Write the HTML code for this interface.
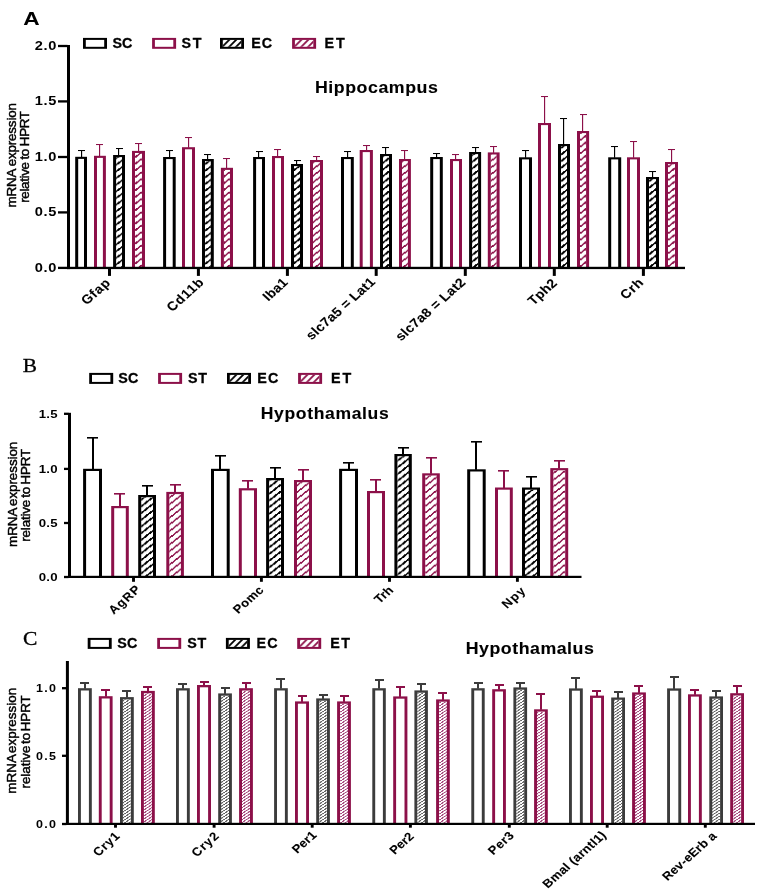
<!DOCTYPE html>
<html lang="en"><head><meta charset="utf-8"><title>mRNA expression relative to HPRT</title>
<style>html,body{margin:0;padding:0;background:#fff;}body{width:762px;height:896px;overflow:hidden;}svg{display:block;}text{white-space:pre;}</style>
</head><body>
<svg width="762" height="896" viewBox="0 0 762 896">
<rect width="762" height="896" fill="#fff"/>
<defs>
<pattern id="hA0" patternUnits="userSpaceOnUse" x="0" y="0" width="8.8" height="6.65"><path d="M-8.8,6.65 L8.8,-6.65 M-8.8,13.3 L17.6,-6.65 M0,13.3 L17.6,0" stroke="#000000" stroke-width="1.8" fill="none" shape-rendering="crispEdges"/></pattern>
<pattern id="hB0" patternUnits="userSpaceOnUse" x="0" y="0" width="8.6" height="6.7"><path d="M-8.6,6.7 L8.6,-6.7 M-8.6,13.4 L17.2,-6.7 M0,13.4 L17.2,0" stroke="#000000" stroke-width="1.7" fill="none" shape-rendering="crispEdges"/></pattern>
<pattern id="hB1" patternUnits="userSpaceOnUse" x="0" y="0" width="8.6" height="6.7"><path d="M-8.6,6.7 L8.6,-6.7 M-8.6,13.4 L17.2,-6.7 M0,13.4 L17.2,0" stroke="#8C1049" stroke-width="1.5" fill="none" shape-rendering="crispEdges"/></pattern>
<pattern id="hA1" patternUnits="userSpaceOnUse" x="0" y="0" width="8.8" height="6.65"><path d="M-8.8,6.65 L8.8,-6.65 M-8.8,13.3 L17.6,-6.65 M0,13.3 L17.6,0" stroke="#8C1049" stroke-width="1.6" fill="none" shape-rendering="crispEdges"/></pattern>
<pattern id="hC0" patternUnits="userSpaceOnUse" x="0" y="0" width="4.5" height="3"><path d="M-4.5,3 L4.5,-3 M-4.5,6 L9,-3 M0,6 L9,0" stroke="#606060" stroke-width="1" fill="none" shape-rendering="crispEdges"/></pattern>
<pattern id="hC1" patternUnits="userSpaceOnUse" x="0" y="0" width="4.5" height="3"><path d="M-4.5,3 L4.5,-3 M-4.5,6 L9,-3 M0,6 L9,0" stroke="#A4457A" stroke-width="1" fill="none" shape-rendering="crispEdges"/></pattern>
<pattern id="hL0" patternUnits="userSpaceOnUse" x="2.2" y="2.1" width="6.9" height="6.9"><path d="M-6.9,6.9 L6.9,-6.9 M-6.9,13.8 L13.8,-6.9 M0,13.8 L13.8,0" stroke="#000000" stroke-width="1.8" fill="none"/></pattern>
<pattern id="hL1" patternUnits="userSpaceOnUse" x="2.2" y="2.1" width="6.9" height="6.9"><path d="M-6.9,6.9 L6.9,-6.9 M-6.9,13.8 L13.8,-6.9 M0,13.8 L13.8,0" stroke="#8C1049" stroke-width="1.8" fill="none"/></pattern>
</defs>
<g id="panel-A">
<text transform="translate(23.23,24.9) scale(1.19,1)" text-anchor="start" fill="#000" style='font-family:"Liberation Sans", Arial, Helvetica, sans-serif;font-size:19.1px;font-weight:bold;'>A</text>
<g transform="translate(83,37.9)">
<rect x="0" y="0" width="24" height="10.9" fill="#000000"/>
<rect x="2.8" y="2" width="18.4" height="6.9" fill="#fff"/>
</g>
<text transform="translate(112.47,48) scale(1,1)" text-anchor="start" fill="#000" style='font-family:"Liberation Sans", Arial, Helvetica, sans-serif;font-size:14.3px;font-weight:bold;letter-spacing:-0.13px;stroke:#000;stroke-width:0.3px;'>SC</text>
<g transform="translate(152.1,37.9)">
<rect x="0" y="0" width="24" height="10.9" fill="#8C1049"/>
<rect x="2.8" y="2" width="18.4" height="6.9" fill="#fff"/>
</g>
<text transform="translate(181.47,48) scale(1,1)" text-anchor="start" fill="#000" style='font-family:"Liberation Sans", Arial, Helvetica, sans-serif;font-size:14.3px;font-weight:bold;letter-spacing:1.7px;stroke:#000;stroke-width:0.3px;'>ST</text>
<g transform="translate(220,37.9)">
<rect x="0" y="0" width="24" height="10.9" fill="#000000"/>
<rect x="2.8" y="2" width="18.4" height="6.9" fill="#fff"/>
<rect x="2.8" y="2" width="18.4" height="6.9" fill="url(#hL0)"/>
</g>
<text transform="translate(251.23,48) scale(1,1)" text-anchor="start" fill="#000" style='font-family:"Liberation Sans", Arial, Helvetica, sans-serif;font-size:14.3px;font-weight:bold;letter-spacing:1px;stroke:#000;stroke-width:0.3px;'>EC</text>
<g transform="translate(292.1,37.9)">
<rect x="0" y="0" width="24" height="10.9" fill="#8C1049"/>
<rect x="2.8" y="2" width="18.4" height="6.9" fill="#fff"/>
<rect x="2.8" y="2" width="18.4" height="6.9" fill="url(#hL1)"/>
</g>
<text transform="translate(324.53,48) scale(1,1)" text-anchor="start" fill="#000" style='font-family:"Liberation Sans", Arial, Helvetica, sans-serif;font-size:14.3px;font-weight:bold;letter-spacing:1.83px;stroke:#000;stroke-width:0.3px;'>ET</text>
<text transform="translate(314.9,93) scale(1.07,1)" text-anchor="start" fill="#000" style='font-family:"Liberation Sans", Arial, Helvetica, sans-serif;font-size:16.6px;font-weight:bold;letter-spacing:0.52px;stroke:#000;stroke-width:0.1px;'>Hippocampus</text>
<text transform="translate(16.3,207.47) scale(1,1) rotate(-90)" text-anchor="start" fill="#000" style='font-family:"Liberation Sans", Arial, Helvetica, sans-serif;font-size:13.4px;font-weight:normal;letter-spacing:-0.16px;word-spacing:-0.5px;stroke:#000;stroke-width:0.45px;'>mRNA expression</text>
<text transform="translate(29.2,202.77) scale(1,1) rotate(-90)" text-anchor="start" fill="#000" style='font-family:"Liberation Sans", Arial, Helvetica, sans-serif;font-size:13.4px;font-weight:normal;letter-spacing:-0.35px;word-spacing:-0.5px;stroke:#000;stroke-width:0.45px;'>relative to HPRT</text>
<rect x="81" y="150" width="1.15" height="7.3" fill="#000000"/>
<rect x="78" y="150" width="7" height="1.05" fill="#000000"/>
<rect x="75.2" y="156.8" width="11.8" height="111.2" fill="#000000"/>
<rect x="78.2" y="158.9" width="5.8" height="109.1" fill="#fff"/>
<rect x="99" y="144" width="1.15" height="12.3" fill="#8C1049"/>
<rect x="96" y="144" width="7" height="1.05" fill="#8C1049"/>
<rect x="94" y="155.8" width="11.9" height="112.2" fill="#8C1049"/>
<rect x="97" y="157.9" width="5.9" height="110.1" fill="#fff"/>
<rect x="118" y="148" width="1.15" height="7.5" fill="#000000"/>
<rect x="116" y="148" width="7" height="1.05" fill="#000000"/>
<rect x="113.1" y="155" width="11.9" height="113" fill="#000000"/>
<rect x="116.1" y="157.1" width="5.9" height="110.9" fill="#fff"/>
<rect x="116.1" y="157.1" width="5.9" height="110.9" fill="url(#hA0)"/>
<rect x="138" y="143" width="1.15" height="8.4" fill="#8C1049"/>
<rect x="135" y="143" width="7" height="1.05" fill="#8C1049"/>
<rect x="132" y="150.9" width="13" height="117.1" fill="#8C1049"/>
<rect x="135" y="153" width="7" height="115" fill="#fff"/>
<rect x="135" y="153" width="7" height="115" fill="url(#hA1)"/>
<rect x="169" y="150" width="1.15" height="7.5" fill="#000000"/>
<rect x="166" y="150" width="7" height="1.05" fill="#000000"/>
<rect x="163.1" y="157" width="12.6" height="111" fill="#000000"/>
<rect x="166.1" y="159.1" width="6.6" height="108.9" fill="#fff"/>
<rect x="188" y="137" width="1.15" height="10.7" fill="#8C1049"/>
<rect x="185" y="137" width="7" height="1.05" fill="#8C1049"/>
<rect x="182" y="147.2" width="13" height="120.8" fill="#8C1049"/>
<rect x="185" y="149.3" width="7" height="118.7" fill="#fff"/>
<rect x="207" y="154" width="1.15" height="5.5" fill="#000000"/>
<rect x="204" y="154" width="7" height="1.05" fill="#000000"/>
<rect x="202" y="159" width="11.8" height="109" fill="#000000"/>
<rect x="205" y="161.1" width="5.8" height="106.9" fill="#fff"/>
<rect x="205" y="161.1" width="5.8" height="106.9" fill="url(#hA0)"/>
<rect x="226" y="158" width="1.15" height="10.3" fill="#8C1049"/>
<rect x="223" y="158" width="7" height="1.05" fill="#8C1049"/>
<rect x="220.9" y="167.8" width="12.1" height="100.2" fill="#8C1049"/>
<rect x="223.9" y="169.9" width="6.1" height="98.1" fill="#fff"/>
<rect x="223.9" y="169.9" width="6.1" height="98.1" fill="url(#hA1)"/>
<rect x="258" y="151" width="1.15" height="6.5" fill="#000000"/>
<rect x="256" y="151" width="7" height="1.05" fill="#000000"/>
<rect x="253.1" y="157" width="11.9" height="111" fill="#000000"/>
<rect x="256.1" y="159.1" width="5.9" height="108.9" fill="#fff"/>
<rect x="277" y="149" width="1.15" height="7.5" fill="#8C1049"/>
<rect x="274" y="149" width="7" height="1.05" fill="#8C1049"/>
<rect x="272" y="156" width="12" height="112" fill="#8C1049"/>
<rect x="275" y="158.1" width="6" height="109.9" fill="#fff"/>
<rect x="296" y="160" width="1.15" height="4.5" fill="#000000"/>
<rect x="294" y="160" width="7" height="1.05" fill="#000000"/>
<rect x="291" y="164" width="12" height="104" fill="#000000"/>
<rect x="294" y="166.1" width="6" height="101.9" fill="#fff"/>
<rect x="294" y="166.1" width="6" height="101.9" fill="url(#hA0)"/>
<rect x="316" y="156" width="1.15" height="4.5" fill="#8C1049"/>
<rect x="313" y="156" width="7" height="1.05" fill="#8C1049"/>
<rect x="310" y="160" width="13" height="108" fill="#8C1049"/>
<rect x="313" y="162.1" width="7" height="105.9" fill="#fff"/>
<rect x="313" y="162.1" width="7" height="105.9" fill="url(#hA1)"/>
<rect x="347" y="151" width="1.15" height="6.5" fill="#000000"/>
<rect x="344" y="151" width="7" height="1.05" fill="#000000"/>
<rect x="341" y="157" width="12.8" height="111" fill="#000000"/>
<rect x="344" y="159.1" width="6.8" height="108.9" fill="#fff"/>
<rect x="366" y="145" width="1.15" height="5.5" fill="#8C1049"/>
<rect x="363" y="145" width="7" height="1.05" fill="#8C1049"/>
<rect x="359.7" y="150" width="13.2" height="118" fill="#8C1049"/>
<rect x="362.7" y="152.1" width="7.2" height="115.9" fill="#fff"/>
<rect x="385" y="147" width="1.15" height="7.5" fill="#000000"/>
<rect x="382" y="147" width="7" height="1.05" fill="#000000"/>
<rect x="380" y="154" width="12" height="114" fill="#000000"/>
<rect x="383" y="156.1" width="6" height="111.9" fill="#fff"/>
<rect x="383" y="156.1" width="6" height="111.9" fill="url(#hA0)"/>
<rect x="404" y="150" width="1.15" height="9.5" fill="#8C1049"/>
<rect x="401" y="150" width="7" height="1.05" fill="#8C1049"/>
<rect x="399" y="159" width="11.9" height="109" fill="#8C1049"/>
<rect x="402" y="161.1" width="5.9" height="106.9" fill="#fff"/>
<rect x="402" y="161.1" width="5.9" height="106.9" fill="url(#hA1)"/>
<rect x="436" y="153" width="1.15" height="4.5" fill="#000000"/>
<rect x="433" y="153" width="7" height="1.05" fill="#000000"/>
<rect x="430.2" y="157" width="12.6" height="111" fill="#000000"/>
<rect x="433.2" y="159.1" width="6.6" height="108.9" fill="#fff"/>
<rect x="455" y="154" width="1.15" height="5.5" fill="#8C1049"/>
<rect x="452" y="154" width="7" height="1.05" fill="#8C1049"/>
<rect x="450" y="159" width="12" height="109" fill="#8C1049"/>
<rect x="453" y="161.1" width="6" height="106.9" fill="#fff"/>
<rect x="475" y="147" width="1.15" height="5.5" fill="#000000"/>
<rect x="472" y="147" width="7" height="1.05" fill="#000000"/>
<rect x="469.1" y="152" width="12" height="116" fill="#000000"/>
<rect x="472.1" y="154.1" width="6" height="113.9" fill="#fff"/>
<rect x="472.1" y="154.1" width="6" height="113.9" fill="url(#hA0)"/>
<rect x="493" y="146" width="1.15" height="6.9" fill="#8C1049"/>
<rect x="490" y="146" width="7" height="1.05" fill="#8C1049"/>
<rect x="487.8" y="152.4" width="11.8" height="115.6" fill="#8C1049"/>
<rect x="490.8" y="154.5" width="5.8" height="113.5" fill="#fff"/>
<rect x="490.8" y="154.5" width="5.8" height="113.5" fill="url(#hA1)"/>
<rect x="525" y="150" width="1.15" height="7.8" fill="#000000"/>
<rect x="522" y="150" width="7" height="1.05" fill="#000000"/>
<rect x="519" y="157.3" width="13" height="110.7" fill="#000000"/>
<rect x="522" y="159.4" width="7" height="108.6" fill="#fff"/>
<rect x="544" y="96" width="1.15" height="27.5" fill="#8C1049"/>
<rect x="541" y="96" width="7" height="1.05" fill="#8C1049"/>
<rect x="538" y="123" width="13" height="145" fill="#8C1049"/>
<rect x="541" y="125.1" width="7" height="142.9" fill="#fff"/>
<rect x="563" y="118" width="1.15" height="26.5" fill="#000000"/>
<rect x="560" y="118" width="7" height="1.05" fill="#000000"/>
<rect x="558" y="144" width="12" height="124" fill="#000000"/>
<rect x="561" y="146.1" width="6" height="121.9" fill="#fff"/>
<rect x="561" y="146.1" width="6" height="121.9" fill="url(#hA0)"/>
<rect x="582" y="114" width="1.15" height="17.5" fill="#8C1049"/>
<rect x="580" y="114" width="7" height="1.05" fill="#8C1049"/>
<rect x="577" y="131" width="12.1" height="137" fill="#8C1049"/>
<rect x="580" y="133.1" width="6.1" height="134.9" fill="#fff"/>
<rect x="580" y="133.1" width="6.1" height="134.9" fill="url(#hA1)"/>
<rect x="614" y="146" width="1.15" height="11.8" fill="#000000"/>
<rect x="611" y="146" width="7" height="1.05" fill="#000000"/>
<rect x="608.2" y="157.3" width="13" height="110.7" fill="#000000"/>
<rect x="611.2" y="159.4" width="7" height="108.6" fill="#fff"/>
<rect x="633" y="141" width="1.15" height="16.8" fill="#8C1049"/>
<rect x="630" y="141" width="7" height="1.05" fill="#8C1049"/>
<rect x="627" y="157.3" width="13" height="110.7" fill="#8C1049"/>
<rect x="630" y="159.4" width="7" height="108.6" fill="#fff"/>
<rect x="652" y="171" width="1.15" height="6.5" fill="#000000"/>
<rect x="649" y="171" width="7" height="1.05" fill="#000000"/>
<rect x="646" y="177" width="13" height="91" fill="#000000"/>
<rect x="649" y="179.1" width="7" height="88.9" fill="#fff"/>
<rect x="649" y="179.1" width="7" height="88.9" fill="url(#hA0)"/>
<rect x="671" y="149" width="1.15" height="13.5" fill="#8C1049"/>
<rect x="668" y="149" width="7" height="1.05" fill="#8C1049"/>
<rect x="665" y="162" width="13" height="106" fill="#8C1049"/>
<rect x="668" y="164.1" width="7" height="103.9" fill="#fff"/>
<rect x="668" y="164.1" width="7" height="103.9" fill="url(#hA1)"/>
<rect x="67" y="45" width="3" height="224.1" fill="#000"/>
<rect x="67" y="266.8" width="618" height="2.3" fill="#000"/>
<rect x="58" y="44.85" width="9.5" height="2.3" fill="#000"/>
<text transform="translate(34.83,49.9) scale(1.17,1)" text-anchor="start" fill="#000" style='font-family:"Liberation Sans", Arial, Helvetica, sans-serif;font-size:12.5px;font-weight:bold;letter-spacing:0.51px;'>2.0</text>
<rect x="58" y="100.25" width="9.5" height="2.3" fill="#000"/>
<text transform="translate(34.83,105.3) scale(1.17,1)" text-anchor="start" fill="#000" style='font-family:"Liberation Sans", Arial, Helvetica, sans-serif;font-size:12.5px;font-weight:bold;letter-spacing:0.51px;'>1.5</text>
<rect x="58" y="155.85" width="9.5" height="2.3" fill="#000"/>
<text transform="translate(34.83,160.9) scale(1.17,1)" text-anchor="start" fill="#000" style='font-family:"Liberation Sans", Arial, Helvetica, sans-serif;font-size:12.5px;font-weight:bold;letter-spacing:0.51px;'>1.0</text>
<rect x="58" y="211.25" width="9.5" height="2.3" fill="#000"/>
<text transform="translate(34.83,216.3) scale(1.17,1)" text-anchor="start" fill="#000" style='font-family:"Liberation Sans", Arial, Helvetica, sans-serif;font-size:12.5px;font-weight:bold;letter-spacing:0.51px;'>0.5</text>
<rect x="58" y="266.75" width="9.5" height="2.3" fill="#000"/>
<text transform="translate(34.83,271.8) scale(1.17,1)" text-anchor="start" fill="#000" style='font-family:"Liberation Sans", Arial, Helvetica, sans-serif;font-size:12.5px;font-weight:bold;letter-spacing:0.51px;'>0.0</text>
<rect x="108" y="268.6" width="3" height="7.3" fill="#000"/>
<text transform="translate(111.63,283.38) scale(1.12,1) rotate(-45)" text-anchor="end" fill="#000" style='font-family:"Liberation Sans", Arial, Helvetica, sans-serif;font-size:12.6px;font-weight:bold;letter-spacing:0.69px;stroke:#000;stroke-width:0.1px;'>Gfap</text>
<rect x="196.9" y="268.6" width="3" height="7.3" fill="#000"/>
<text transform="translate(205.15,282.77) scale(1.12,1) rotate(-45)" text-anchor="end" fill="#000" style='font-family:"Liberation Sans", Arial, Helvetica, sans-serif;font-size:12.6px;font-weight:bold;letter-spacing:0.78px;stroke:#000;stroke-width:0.1px;'>Cd11b</text>
<rect x="285.9" y="268.6" width="3" height="7.3" fill="#000"/>
<text transform="translate(288.8,283.23) scale(1.12,1) rotate(-45)" text-anchor="end" fill="#000" style='font-family:"Liberation Sans", Arial, Helvetica, sans-serif;font-size:12.6px;font-weight:bold;letter-spacing:0.19px;stroke:#000;stroke-width:0.1px;'>Iba1</text>
<rect x="374.7" y="268.6" width="3" height="7.3" fill="#000"/>
<text transform="translate(376.35,282.63) scale(1.12,1) rotate(-45)" text-anchor="end" fill="#000" style='font-family:"Liberation Sans", Arial, Helvetica, sans-serif;font-size:12.6px;font-weight:bold;letter-spacing:0.24px;stroke:#000;stroke-width:0.1px;'>slc7a5 = Lat1</text>
<rect x="463.8" y="268.6" width="3" height="7.3" fill="#000"/>
<text transform="translate(466.52,282.97) scale(1.12,1) rotate(-45)" text-anchor="end" fill="#000" style='font-family:"Liberation Sans", Arial, Helvetica, sans-serif;font-size:12.6px;font-weight:bold;letter-spacing:0.32px;stroke:#000;stroke-width:0.1px;'>slc7a8 = Lat2</text>
<rect x="552.8" y="268.6" width="3" height="7.3" fill="#000"/>
<text transform="translate(558.12,283.73) scale(1.12,1) rotate(-45)" text-anchor="end" fill="#000" style='font-family:"Liberation Sans", Arial, Helvetica, sans-serif;font-size:12.6px;font-weight:bold;letter-spacing:0.29px;stroke:#000;stroke-width:0.1px;'>Tph2</text>
<rect x="641.9" y="268.6" width="3" height="7.3" fill="#000"/>
<text transform="translate(644.55,283.15) scale(1.12,1) rotate(-45)" text-anchor="end" fill="#000" style='font-family:"Liberation Sans", Arial, Helvetica, sans-serif;font-size:12.6px;font-weight:bold;letter-spacing:0.69px;stroke:#000;stroke-width:0.1px;'>Crh</text>
</g>
<g id="panel-B">
<text transform="translate(22.77,371.6) scale(1.13,1)" text-anchor="start" fill="#000" style='font-family:"Liberation Serif", "Times New Roman", serif;font-size:18.9px;font-weight:normal;stroke:#000;stroke-width:0.3px;'>B</text>
<g transform="translate(89.2,372.9)">
<rect x="0" y="0" width="24" height="11" fill="#000000"/>
<rect x="2.8" y="2" width="18.4" height="7" fill="#fff"/>
</g>
<text transform="translate(118.27,383.1) scale(1,1)" text-anchor="start" fill="#000" style='font-family:"Liberation Sans", Arial, Helvetica, sans-serif;font-size:14.3px;font-weight:bold;letter-spacing:0.27px;stroke:#000;stroke-width:0.3px;'>SC</text>
<g transform="translate(158.1,372.9)">
<rect x="0" y="0" width="24" height="11" fill="#8C1049"/>
<rect x="2.8" y="2" width="18.4" height="7" fill="#fff"/>
</g>
<text transform="translate(188.07,383.1) scale(1,1)" text-anchor="start" fill="#000" style='font-family:"Liberation Sans", Arial, Helvetica, sans-serif;font-size:14.3px;font-weight:bold;letter-spacing:0.7px;stroke:#000;stroke-width:0.3px;'>ST</text>
<g transform="translate(227,372.9)">
<rect x="0" y="0" width="24" height="11" fill="#000000"/>
<rect x="2.8" y="2" width="18.4" height="7" fill="#fff"/>
<rect x="2.8" y="2" width="18.4" height="7" fill="url(#hL0)"/>
</g>
<text transform="translate(257.33,383.1) scale(1,1)" text-anchor="start" fill="#000" style='font-family:"Liberation Sans", Arial, Helvetica, sans-serif;font-size:14.3px;font-weight:bold;letter-spacing:1.2px;stroke:#000;stroke-width:0.3px;'>EC</text>
<g transform="translate(298.1,372.9)">
<rect x="0" y="0" width="24" height="11" fill="#8C1049"/>
<rect x="2.8" y="2" width="18.4" height="7" fill="#fff"/>
<rect x="2.8" y="2" width="18.4" height="7" fill="url(#hL1)"/>
</g>
<text transform="translate(331.03,383.1) scale(1,1)" text-anchor="start" fill="#000" style='font-family:"Liberation Sans", Arial, Helvetica, sans-serif;font-size:14.3px;font-weight:bold;letter-spacing:2.03px;stroke:#000;stroke-width:0.3px;'>ET</text>
<text transform="translate(260.7,418.9) scale(1.07,1)" text-anchor="start" fill="#000" style='font-family:"Liberation Sans", Arial, Helvetica, sans-serif;font-size:16.4px;font-weight:bold;letter-spacing:0.61px;stroke:#000;stroke-width:0.1px;'>Hypothamalus</text>
<text transform="translate(16.5,546.97) scale(1,1) rotate(-90)" text-anchor="start" fill="#000" style='font-family:"Liberation Sans", Arial, Helvetica, sans-serif;font-size:13.4px;font-weight:normal;letter-spacing:-0.05px;word-spacing:-1.2px;stroke:#000;stroke-width:0.45px;'>mRNA expression</text>
<text transform="translate(29.5,541.67) scale(1,1) rotate(-90)" text-anchor="start" fill="#000" style='font-family:"Liberation Sans", Arial, Helvetica, sans-serif;font-size:13.4px;font-weight:normal;letter-spacing:-0.19px;word-spacing:-1.2px;stroke:#000;stroke-width:0.45px;'>relative to HPRT</text>
<rect x="92" y="437" width="2" height="32.3" fill="#000000"/>
<rect x="87" y="437" width="11" height="1.6" fill="#000000"/>
<rect x="83.1" y="468.8" width="18.9" height="108.2" fill="#000000"/>
<rect x="86.1" y="471" width="12.9" height="106" fill="#fff"/>
<rect x="119" y="493" width="2" height="13.5" fill="#8C1049"/>
<rect x="114" y="493" width="11" height="1.6" fill="#8C1049"/>
<rect x="111.2" y="506" width="17.6" height="71" fill="#8C1049"/>
<rect x="114.2" y="508.2" width="11.6" height="68.8" fill="#fff"/>
<rect x="146" y="485" width="2" height="10.5" fill="#000000"/>
<rect x="142" y="485" width="11" height="1.6" fill="#000000"/>
<rect x="138.2" y="495" width="17.8" height="82" fill="#000000"/>
<rect x="141.2" y="497.2" width="11.8" height="79.8" fill="#fff"/>
<rect x="141.2" y="497.2" width="11.8" height="79.8" fill="url(#hB0)"/>
<rect x="174" y="484" width="2" height="8.4" fill="#8C1049"/>
<rect x="170" y="484" width="11" height="1.6" fill="#8C1049"/>
<rect x="166.3" y="491.9" width="17.6" height="85.1" fill="#8C1049"/>
<rect x="169.3" y="494.1" width="11.6" height="82.9" fill="#fff"/>
<rect x="169.3" y="494.1" width="11.6" height="82.9" fill="url(#hB1)"/>
<rect x="219" y="455" width="2" height="14.3" fill="#000000"/>
<rect x="215" y="455" width="11" height="1.6" fill="#000000"/>
<rect x="211" y="468.8" width="18.7" height="108.2" fill="#000000"/>
<rect x="214" y="471" width="12.7" height="106" fill="#fff"/>
<rect x="247" y="480" width="2" height="8.7" fill="#8C1049"/>
<rect x="242" y="480" width="11" height="1.6" fill="#8C1049"/>
<rect x="238.8" y="488.2" width="18.2" height="88.8" fill="#8C1049"/>
<rect x="241.8" y="490.4" width="12.2" height="86.6" fill="#fff"/>
<rect x="274" y="467" width="2" height="11.5" fill="#000000"/>
<rect x="270" y="467" width="11" height="1.6" fill="#000000"/>
<rect x="266.1" y="478" width="17.9" height="99" fill="#000000"/>
<rect x="269.1" y="480.2" width="11.9" height="96.8" fill="#fff"/>
<rect x="269.1" y="480.2" width="11.9" height="96.8" fill="url(#hB0)"/>
<rect x="302" y="469" width="2" height="11.5" fill="#8C1049"/>
<rect x="298" y="469" width="11" height="1.6" fill="#8C1049"/>
<rect x="294" y="480" width="18" height="97" fill="#8C1049"/>
<rect x="297" y="482.2" width="12" height="94.8" fill="#fff"/>
<rect x="297" y="482.2" width="12" height="94.8" fill="url(#hB1)"/>
<rect x="348" y="462" width="2" height="7.3" fill="#000000"/>
<rect x="343" y="462" width="11" height="1.6" fill="#000000"/>
<rect x="339.1" y="468.8" width="18.9" height="108.2" fill="#000000"/>
<rect x="342.1" y="471" width="12.9" height="106" fill="#fff"/>
<rect x="375" y="479" width="2" height="12.5" fill="#8C1049"/>
<rect x="370" y="479" width="11" height="1.6" fill="#8C1049"/>
<rect x="367" y="491" width="18" height="86" fill="#8C1049"/>
<rect x="370" y="493.2" width="12" height="83.8" fill="#fff"/>
<rect x="402" y="447" width="2" height="7.5" fill="#000000"/>
<rect x="398" y="447" width="11" height="1.6" fill="#000000"/>
<rect x="394.4" y="454" width="17.4" height="123" fill="#000000"/>
<rect x="397.4" y="456.2" width="11.4" height="120.8" fill="#fff"/>
<rect x="397.4" y="456.2" width="11.4" height="120.8" fill="url(#hB0)"/>
<rect x="430" y="457" width="2" height="16.8" fill="#8C1049"/>
<rect x="426" y="457" width="11" height="1.6" fill="#8C1049"/>
<rect x="422.2" y="473.3" width="17.6" height="103.7" fill="#8C1049"/>
<rect x="425.2" y="475.5" width="11.6" height="101.5" fill="#fff"/>
<rect x="425.2" y="475.5" width="11.6" height="101.5" fill="url(#hB1)"/>
<rect x="475" y="441" width="2" height="28.8" fill="#000000"/>
<rect x="471" y="441" width="11" height="1.6" fill="#000000"/>
<rect x="467.2" y="469.3" width="18.5" height="107.7" fill="#000000"/>
<rect x="470.2" y="471.5" width="12.5" height="105.5" fill="#fff"/>
<rect x="503" y="470" width="2" height="18" fill="#8C1049"/>
<rect x="498" y="470" width="11" height="1.6" fill="#8C1049"/>
<rect x="495" y="487.5" width="17.8" height="89.5" fill="#8C1049"/>
<rect x="498" y="489.7" width="11.8" height="87.3" fill="#fff"/>
<rect x="530" y="476" width="2" height="12" fill="#000000"/>
<rect x="526" y="476" width="11" height="1.6" fill="#000000"/>
<rect x="522" y="487.5" width="18" height="89.5" fill="#000000"/>
<rect x="525" y="489.7" width="12" height="87.3" fill="#fff"/>
<rect x="525" y="489.7" width="12" height="87.3" fill="url(#hB0)"/>
<rect x="558" y="460" width="2" height="8.6" fill="#8C1049"/>
<rect x="554" y="460" width="11" height="1.6" fill="#8C1049"/>
<rect x="550.3" y="468.1" width="17.9" height="108.9" fill="#8C1049"/>
<rect x="553.3" y="470.3" width="11.9" height="106.7" fill="#fff"/>
<rect x="553.3" y="470.3" width="11.9" height="106.7" fill="url(#hB1)"/>
<rect x="68" y="412.8" width="3" height="165.2" fill="#000"/>
<rect x="68" y="575.8" width="513.5" height="2.2" fill="#000"/>
<rect x="64" y="412.65" width="4.5" height="2.3" fill="#000"/>
<text transform="translate(38.63,418.2) scale(1.17,1)" text-anchor="start" fill="#000" style='font-family:"Liberation Sans", Arial, Helvetica, sans-serif;font-size:11.3px;font-weight:bold;letter-spacing:0.21px;'>1.5</text>
<rect x="64" y="467.75" width="4.5" height="2.3" fill="#000"/>
<text transform="translate(38.63,473.3) scale(1.17,1)" text-anchor="start" fill="#000" style='font-family:"Liberation Sans", Arial, Helvetica, sans-serif;font-size:11.3px;font-weight:bold;letter-spacing:0.21px;'>1.0</text>
<rect x="64" y="521.85" width="4.5" height="2.3" fill="#000"/>
<text transform="translate(38.63,527.4) scale(1.17,1)" text-anchor="start" fill="#000" style='font-family:"Liberation Sans", Arial, Helvetica, sans-serif;font-size:11.3px;font-weight:bold;letter-spacing:0.21px;'>0.5</text>
<rect x="64" y="575.85" width="4.5" height="2.3" fill="#000"/>
<text transform="translate(38.63,581.4) scale(1.17,1)" text-anchor="start" fill="#000" style='font-family:"Liberation Sans", Arial, Helvetica, sans-serif;font-size:11.3px;font-weight:bold;letter-spacing:0.21px;'>0.0</text>
<rect x="132.05" y="577.5" width="2.9" height="4.3" fill="#000"/>
<text transform="translate(142.08,589.48) scale(1.12,1) rotate(-45)" text-anchor="end" fill="#000" style='font-family:"Liberation Sans", Arial, Helvetica, sans-serif;font-size:11.7px;font-weight:bold;letter-spacing:1px;stroke:#000;stroke-width:0.1px;'>AgRP</text>
<rect x="259.95" y="577.5" width="2.9" height="4.3" fill="#000"/>
<text transform="translate(264.58,590.72) scale(1.12,1) rotate(-45)" text-anchor="end" fill="#000" style='font-family:"Liberation Sans", Arial, Helvetica, sans-serif;font-size:11.7px;font-weight:bold;letter-spacing:0.32px;stroke:#000;stroke-width:0.1px;'>Pomc</text>
<rect x="388.05" y="577.5" width="2.9" height="4.3" fill="#000"/>
<text transform="translate(394.13,590.9) scale(1.12,1) rotate(-45)" text-anchor="end" fill="#000" style='font-family:"Liberation Sans", Arial, Helvetica, sans-serif;font-size:11.7px;font-weight:bold;letter-spacing:0.07px;stroke:#000;stroke-width:0.1px;'>Trh</text>
<rect x="515.95" y="577.5" width="2.9" height="4.3" fill="#000"/>
<text transform="translate(526.93,591.23) scale(1.12,1) rotate(-45)" text-anchor="end" fill="#000" style='font-family:"Liberation Sans", Arial, Helvetica, sans-serif;font-size:11.7px;font-weight:bold;letter-spacing:0.98px;stroke:#000;stroke-width:0.1px;'>Npy</text>
</g>
<g id="panel-C">
<text transform="translate(23.03,644.6) scale(1.14,1)" text-anchor="start" fill="#000" style='font-family:"Liberation Serif", "Times New Roman", serif;font-size:18.9px;font-weight:normal;stroke:#000;stroke-width:0.3px;'>C</text>
<g transform="translate(87.7,637.9)">
<rect x="0" y="0" width="24" height="11" fill="#000000"/>
<rect x="2.8" y="2" width="18.4" height="7" fill="#fff"/>
</g>
<text transform="translate(117.37,648.1) scale(1,1)" text-anchor="start" fill="#000" style='font-family:"Liberation Sans", Arial, Helvetica, sans-serif;font-size:14.3px;font-weight:bold;letter-spacing:-0.03px;stroke:#000;stroke-width:0.3px;'>SC</text>
<g transform="translate(157.2,637.9)">
<rect x="0" y="0" width="24" height="11" fill="#8C1049"/>
<rect x="2.8" y="2" width="18.4" height="7" fill="#fff"/>
</g>
<text transform="translate(187.17,648.1) scale(1,1)" text-anchor="start" fill="#000" style='font-family:"Liberation Sans", Arial, Helvetica, sans-serif;font-size:14.3px;font-weight:bold;letter-spacing:0.7px;stroke:#000;stroke-width:0.3px;'>ST</text>
<g transform="translate(225.9,637.9)">
<rect x="0" y="0" width="24" height="11" fill="#000000"/>
<rect x="2.8" y="2" width="18.4" height="7" fill="#fff"/>
<rect x="2.8" y="2" width="18.4" height="7" fill="url(#hL0)"/>
</g>
<text transform="translate(256.43,648.1) scale(1,1)" text-anchor="start" fill="#000" style='font-family:"Liberation Sans", Arial, Helvetica, sans-serif;font-size:14.3px;font-weight:bold;letter-spacing:1.2px;stroke:#000;stroke-width:0.3px;'>EC</text>
<g transform="translate(297.2,637.9)">
<rect x="0" y="0" width="24" height="11" fill="#8C1049"/>
<rect x="2.8" y="2" width="18.4" height="7" fill="#fff"/>
<rect x="2.8" y="2" width="18.4" height="7" fill="url(#hL1)"/>
</g>
<text transform="translate(330.13,648.1) scale(1,1)" text-anchor="start" fill="#000" style='font-family:"Liberation Sans", Arial, Helvetica, sans-serif;font-size:14.3px;font-weight:bold;letter-spacing:1.63px;stroke:#000;stroke-width:0.3px;'>ET</text>
<text transform="translate(465.7,653.8) scale(1.07,1)" text-anchor="start" fill="#000" style='font-family:"Liberation Sans", Arial, Helvetica, sans-serif;font-size:16.6px;font-weight:bold;letter-spacing:0.49px;stroke:#000;stroke-width:0.1px;'>Hypothamalus</text>
<text transform="translate(16.3,793.77) scale(1,1) rotate(-90)" text-anchor="start" fill="#000" style='font-family:"Liberation Sans", Arial, Helvetica, sans-serif;font-size:13.4px;font-weight:normal;letter-spacing:0.06px;word-spacing:-2px;stroke:#000;stroke-width:0.45px;'>mRNA expression</text>
<text transform="translate(29.5,788.47) scale(1,1) rotate(-90)" text-anchor="start" fill="#000" style='font-family:"Liberation Sans", Arial, Helvetica, sans-serif;font-size:13.4px;font-weight:normal;letter-spacing:-0.05px;word-spacing:-2px;stroke:#000;stroke-width:0.45px;'>relative to HPRT</text>
<rect x="84" y="682" width="2" height="6.7" fill="#3c3c3c"/>
<rect x="80" y="682" width="9" height="2" fill="#3c3c3c"/>
<rect x="78" y="688.2" width="13.8" height="135.8" fill="#3c3c3c"/>
<rect x="80.9" y="690.5" width="8" height="133.5" fill="#fff"/>
<rect x="105" y="689" width="2" height="7.7" fill="#8C1049"/>
<rect x="101" y="689" width="9" height="2" fill="#8C1049"/>
<rect x="98.8" y="696.2" width="13.8" height="127.8" fill="#8C1049"/>
<rect x="101.7" y="698.5" width="8" height="125.5" fill="#fff"/>
<rect x="126" y="690" width="2" height="7.6" fill="#3c3c3c"/>
<rect x="122" y="690" width="9" height="2" fill="#3c3c3c"/>
<rect x="120" y="697.1" width="13.8" height="126.9" fill="#3c3c3c"/>
<rect x="122.9" y="699.4" width="8" height="124.6" fill="#fff"/>
<rect x="122.9" y="699.4" width="8" height="124.6" fill="url(#hC0)"/>
<rect x="147" y="686" width="2" height="5.4" fill="#8C1049"/>
<rect x="143" y="686" width="9" height="2" fill="#8C1049"/>
<rect x="141" y="690.9" width="13.8" height="133.1" fill="#8C1049"/>
<rect x="143.9" y="693.2" width="8" height="130.8" fill="#fff"/>
<rect x="143.9" y="693.2" width="8" height="130.8" fill="url(#hC1)"/>
<rect x="182" y="683" width="2" height="5.7" fill="#3c3c3c"/>
<rect x="178" y="683" width="9" height="2" fill="#3c3c3c"/>
<rect x="176" y="688.2" width="13.8" height="135.8" fill="#3c3c3c"/>
<rect x="178.9" y="690.5" width="8" height="133.5" fill="#fff"/>
<rect x="203" y="681" width="2" height="4.5" fill="#8C1049"/>
<rect x="200" y="681" width="9" height="2" fill="#8C1049"/>
<rect x="197" y="685" width="14" height="139" fill="#8C1049"/>
<rect x="199.9" y="687.3" width="8.2" height="136.7" fill="#fff"/>
<rect x="224" y="687" width="2" height="6.9" fill="#3c3c3c"/>
<rect x="221" y="687" width="9" height="2" fill="#3c3c3c"/>
<rect x="218.2" y="693.4" width="13.7" height="130.6" fill="#3c3c3c"/>
<rect x="221.1" y="695.7" width="7.9" height="128.3" fill="#fff"/>
<rect x="221.1" y="695.7" width="7.9" height="128.3" fill="url(#hC0)"/>
<rect x="245" y="682" width="2" height="6.7" fill="#8C1049"/>
<rect x="242" y="682" width="9" height="2" fill="#8C1049"/>
<rect x="239.1" y="688.2" width="13.8" height="135.8" fill="#8C1049"/>
<rect x="242" y="690.5" width="8" height="133.5" fill="#fff"/>
<rect x="242" y="690.5" width="8" height="133.5" fill="url(#hC1)"/>
<rect x="280" y="678" width="2" height="10.7" fill="#3c3c3c"/>
<rect x="276" y="678" width="9" height="2" fill="#3c3c3c"/>
<rect x="274.1" y="688.2" width="13.7" height="135.8" fill="#3c3c3c"/>
<rect x="277" y="690.5" width="7.9" height="133.5" fill="#fff"/>
<rect x="301" y="695" width="2" height="6.9" fill="#8C1049"/>
<rect x="298" y="695" width="9" height="2" fill="#8C1049"/>
<rect x="295" y="701.4" width="14" height="122.6" fill="#8C1049"/>
<rect x="297.9" y="703.7" width="8.2" height="120.3" fill="#fff"/>
<rect x="322" y="694" width="2" height="4.9" fill="#3c3c3c"/>
<rect x="319" y="694" width="9" height="2" fill="#3c3c3c"/>
<rect x="316.2" y="698.4" width="13.7" height="125.6" fill="#3c3c3c"/>
<rect x="319.1" y="700.7" width="7.9" height="123.3" fill="#fff"/>
<rect x="319.1" y="700.7" width="7.9" height="123.3" fill="url(#hC0)"/>
<rect x="343" y="695" width="2" height="6.9" fill="#8C1049"/>
<rect x="340" y="695" width="9" height="2" fill="#8C1049"/>
<rect x="337.1" y="701.4" width="13.8" height="122.6" fill="#8C1049"/>
<rect x="340" y="703.7" width="8" height="120.3" fill="#fff"/>
<rect x="340" y="703.7" width="8" height="120.3" fill="url(#hC1)"/>
<rect x="378" y="679" width="2" height="9.7" fill="#3c3c3c"/>
<rect x="375" y="679" width="9" height="2" fill="#3c3c3c"/>
<rect x="372.3" y="688.2" width="13.5" height="135.8" fill="#3c3c3c"/>
<rect x="375.2" y="690.5" width="7.7" height="133.5" fill="#fff"/>
<rect x="399" y="686" width="2" height="10.9" fill="#8C1049"/>
<rect x="396" y="686" width="9" height="2" fill="#8C1049"/>
<rect x="393.2" y="696.4" width="14.2" height="127.6" fill="#8C1049"/>
<rect x="396.1" y="698.7" width="8.4" height="125.3" fill="#fff"/>
<rect x="420" y="683" width="2" height="7.9" fill="#3c3c3c"/>
<rect x="417" y="683" width="9" height="2" fill="#3c3c3c"/>
<rect x="414.4" y="690.4" width="13.5" height="133.6" fill="#3c3c3c"/>
<rect x="417.3" y="692.7" width="7.7" height="131.3" fill="#fff"/>
<rect x="417.3" y="692.7" width="7.7" height="131.3" fill="url(#hC0)"/>
<rect x="442" y="692" width="2" height="7.9" fill="#8C1049"/>
<rect x="438" y="692" width="9" height="2" fill="#8C1049"/>
<rect x="436.1" y="699.4" width="13.7" height="124.6" fill="#8C1049"/>
<rect x="439" y="701.7" width="7.9" height="122.3" fill="#fff"/>
<rect x="439" y="701.7" width="7.9" height="122.3" fill="url(#hC1)"/>
<rect x="477" y="682" width="2" height="6.7" fill="#3c3c3c"/>
<rect x="474" y="682" width="9" height="2" fill="#3c3c3c"/>
<rect x="471.3" y="688.2" width="13.4" height="135.8" fill="#3c3c3c"/>
<rect x="474.2" y="690.5" width="7.6" height="133.5" fill="#fff"/>
<rect x="498" y="684" width="2" height="5.7" fill="#8C1049"/>
<rect x="495" y="684" width="9" height="2" fill="#8C1049"/>
<rect x="492.2" y="689.2" width="13.7" height="134.8" fill="#8C1049"/>
<rect x="495.1" y="691.5" width="7.9" height="132.5" fill="#fff"/>
<rect x="519" y="682" width="2" height="5.9" fill="#3c3c3c"/>
<rect x="516" y="682" width="9" height="2" fill="#3c3c3c"/>
<rect x="513.4" y="687.4" width="13.7" height="136.6" fill="#3c3c3c"/>
<rect x="516.3" y="689.7" width="7.9" height="134.3" fill="#fff"/>
<rect x="516.3" y="689.7" width="7.9" height="134.3" fill="url(#hC0)"/>
<rect x="540" y="693" width="2" height="16.8" fill="#8C1049"/>
<rect x="536" y="693" width="9" height="2" fill="#8C1049"/>
<rect x="534.1" y="709.3" width="13.7" height="114.7" fill="#8C1049"/>
<rect x="537" y="711.6" width="7.9" height="112.4" fill="#fff"/>
<rect x="537" y="711.6" width="7.9" height="112.4" fill="url(#hC1)"/>
<rect x="575" y="677" width="2" height="11.9" fill="#3c3c3c"/>
<rect x="571" y="677" width="9" height="2" fill="#3c3c3c"/>
<rect x="569" y="688.4" width="13.8" height="135.6" fill="#3c3c3c"/>
<rect x="571.9" y="690.7" width="8" height="133.3" fill="#fff"/>
<rect x="596" y="690" width="2" height="6.1" fill="#8C1049"/>
<rect x="592" y="690" width="9" height="2" fill="#8C1049"/>
<rect x="590" y="695.6" width="14" height="128.4" fill="#8C1049"/>
<rect x="592.9" y="697.9" width="8.2" height="126.1" fill="#fff"/>
<rect x="617" y="691" width="2" height="7" fill="#3c3c3c"/>
<rect x="614" y="691" width="9" height="2" fill="#3c3c3c"/>
<rect x="611.2" y="697.5" width="13.8" height="126.5" fill="#3c3c3c"/>
<rect x="614.1" y="699.8" width="8" height="124.2" fill="#fff"/>
<rect x="614.1" y="699.8" width="8" height="124.2" fill="url(#hC0)"/>
<rect x="638" y="685" width="2" height="7.9" fill="#8C1049"/>
<rect x="634" y="685" width="9" height="2" fill="#8C1049"/>
<rect x="632.1" y="692.4" width="13.8" height="131.6" fill="#8C1049"/>
<rect x="635" y="694.7" width="8" height="129.3" fill="#fff"/>
<rect x="635" y="694.7" width="8" height="129.3" fill="url(#hC1)"/>
<rect x="673" y="676" width="2" height="12.9" fill="#3c3c3c"/>
<rect x="670" y="676" width="9" height="2" fill="#3c3c3c"/>
<rect x="667.1" y="688.4" width="14.1" height="135.6" fill="#3c3c3c"/>
<rect x="670" y="690.7" width="8.3" height="133.3" fill="#fff"/>
<rect x="694" y="689" width="2" height="5.8" fill="#8C1049"/>
<rect x="690" y="689" width="9" height="2" fill="#8C1049"/>
<rect x="688" y="694.3" width="13.8" height="129.7" fill="#8C1049"/>
<rect x="690.9" y="696.6" width="8" height="127.4" fill="#fff"/>
<rect x="715" y="690" width="2" height="6.9" fill="#3c3c3c"/>
<rect x="712" y="690" width="9" height="2" fill="#3c3c3c"/>
<rect x="709.3" y="696.4" width="13.7" height="127.6" fill="#3c3c3c"/>
<rect x="712.2" y="698.7" width="7.9" height="125.3" fill="#fff"/>
<rect x="712.2" y="698.7" width="7.9" height="125.3" fill="url(#hC0)"/>
<rect x="736" y="685" width="2" height="8.7" fill="#8C1049"/>
<rect x="733" y="685" width="9" height="2" fill="#8C1049"/>
<rect x="730.2" y="693.2" width="13.8" height="130.8" fill="#8C1049"/>
<rect x="733.1" y="695.5" width="8" height="128.5" fill="#fff"/>
<rect x="733.1" y="695.5" width="8" height="128.5" fill="url(#hC1)"/>
<rect x="65.9" y="661" width="3" height="164" fill="#000"/>
<rect x="65.9" y="822.8" width="689.1" height="2.2" fill="#000"/>
<rect x="62" y="687.05" width="4.4" height="2.3" fill="#000"/>
<text transform="translate(36.03,691.9) scale(1.17,1)" text-anchor="start" fill="#000" style='font-family:"Liberation Sans", Arial, Helvetica, sans-serif;font-size:10.7px;font-weight:bold;letter-spacing:1.1px;'>1.0</text>
<rect x="62" y="754.65" width="4.4" height="2.3" fill="#000"/>
<text transform="translate(36.03,759.5) scale(1.17,1)" text-anchor="start" fill="#000" style='font-family:"Liberation Sans", Arial, Helvetica, sans-serif;font-size:10.7px;font-weight:bold;letter-spacing:1.1px;'>0.5</text>
<rect x="62" y="822.85" width="4.4" height="2.3" fill="#000"/>
<text transform="translate(36.03,827.7) scale(1.17,1)" text-anchor="start" fill="#000" style='font-family:"Liberation Sans", Arial, Helvetica, sans-serif;font-size:10.7px;font-weight:bold;letter-spacing:1.1px;'>0.0</text>
<rect x="114.05" y="824.5" width="2.9" height="3.2" fill="#000"/>
<text transform="translate(121.07,836.45) scale(1.12,1) rotate(-45)" text-anchor="end" fill="#000" style='font-family:"Liberation Sans", Arial, Helvetica, sans-serif;font-size:11.7px;font-weight:bold;letter-spacing:0.74px;stroke:#000;stroke-width:0.1px;'>Cry1</text>
<rect x="212.65" y="824.5" width="2.9" height="3.2" fill="#000"/>
<text transform="translate(220.47,836.25) scale(1.12,1) rotate(-45)" text-anchor="end" fill="#000" style='font-family:"Liberation Sans", Arial, Helvetica, sans-serif;font-size:11.7px;font-weight:bold;letter-spacing:1.01px;stroke:#000;stroke-width:0.1px;'>Cry2</text>
<rect x="310.75" y="824.5" width="2.9" height="3.2" fill="#000"/>
<text transform="translate(317.42,835.83) scale(1.12,1) rotate(-45)" text-anchor="end" fill="#000" style='font-family:"Liberation Sans", Arial, Helvetica, sans-serif;font-size:11.7px;font-weight:bold;letter-spacing:0.07px;stroke:#000;stroke-width:0.1px;'>Per1</text>
<rect x="408.95" y="824.5" width="2.9" height="3.2" fill="#000"/>
<text transform="translate(414.65,837.12) scale(1.12,1) rotate(-45)" text-anchor="end" fill="#000" style='font-family:"Liberation Sans", Arial, Helvetica, sans-serif;font-size:11.7px;font-weight:bold;letter-spacing:-0.03px;stroke:#000;stroke-width:0.1px;'>Per2</text>
<rect x="507.85" y="824.5" width="2.9" height="3.2" fill="#000"/>
<text transform="translate(515.07,835.95) scale(1.12,1) rotate(-45)" text-anchor="end" fill="#000" style='font-family:"Liberation Sans", Arial, Helvetica, sans-serif;font-size:11.7px;font-weight:bold;letter-spacing:0.54px;stroke:#000;stroke-width:0.1px;'>Per3</text>
<rect x="605.75" y="824.5" width="2.9" height="3.2" fill="#000"/>
<text transform="translate(607.05,835.85) scale(1.12,1) rotate(-45)" text-anchor="end" fill="#000" style='font-family:"Liberation Sans", Arial, Helvetica, sans-serif;font-size:11.7px;font-weight:bold;letter-spacing:0.26px;stroke:#000;stroke-width:0.1px;'>Bmal (arntl1)</text>
<rect x="703.85" y="824.5" width="2.9" height="3.2" fill="#000"/>
<text transform="translate(717.45,836.7) scale(1.12,1) rotate(-45)" text-anchor="end" fill="#000" style='font-family:"Liberation Sans", Arial, Helvetica, sans-serif;font-size:11.7px;font-weight:bold;letter-spacing:0.21px;stroke:#000;stroke-width:0.1px;'>Rev-eErb a</text>
</g>
</svg>
</body></html>
